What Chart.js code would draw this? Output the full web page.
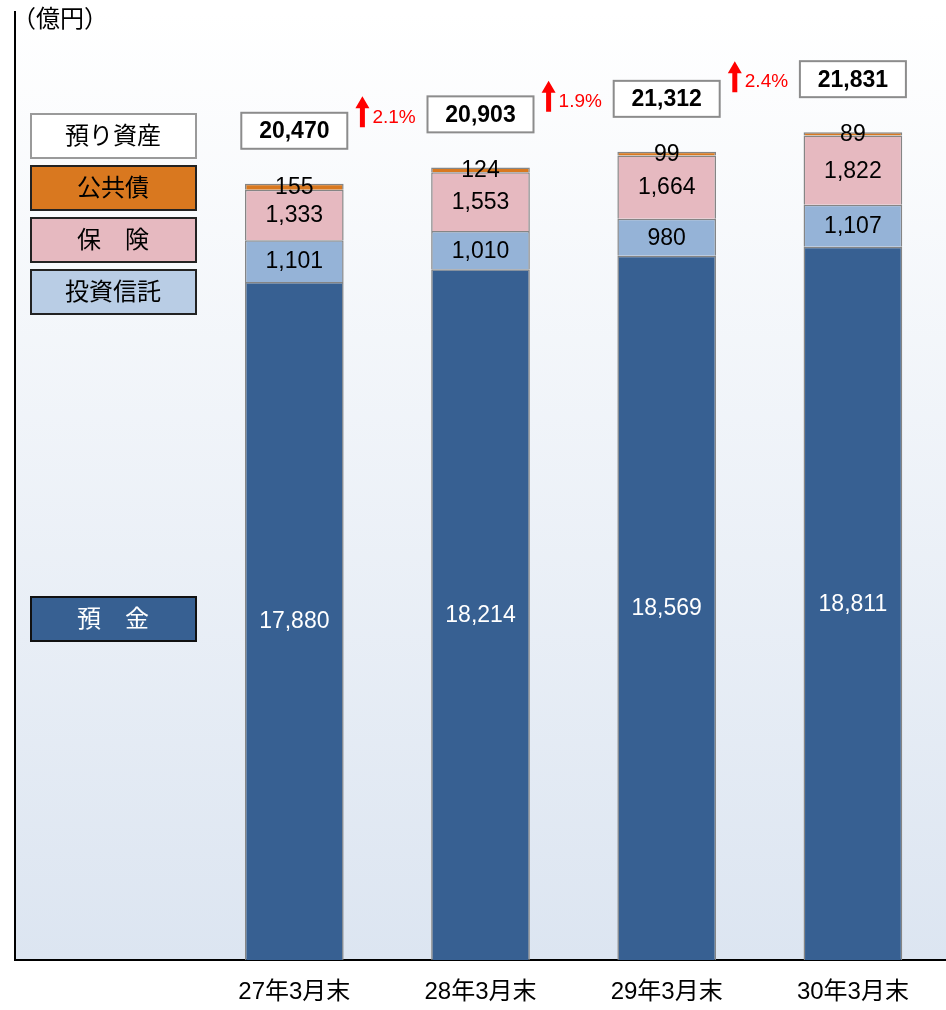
<!DOCTYPE html>
<html>
<head>
<meta charset="utf-8">
<script src="https://cdn.jsdelivr.net/npm/chart.js@4.4.0/dist/chart.umd.min.js"></script>
<style>
html, body { margin: 0; padding: 0; background: #fff; }
#wrap { width: 946px; height: 1010px; position: relative; }
</style>
</head>
<body>
<div id="wrap"><canvas id="myBarChart"></canvas></div>
<script>
// values (億円)
var categories = ["27年3月末", "28年3月末", "29年3月末", "30年3月末"];
var deposits = [17880, 18214, 18569, 18811];   // 預金
var trusts = [1101, 1010, 980, 1107];           // 投資信託
var insurance = [1333, 1553, 1664, 1822];       // 保険
var bonds = [155, 124, 99, 89];                 // 公共債
var totals = [20470, 20903, 21312, 21831];      // 預り資産
var growth = ["2.1%", "1.9%", "2.4%"];

var NUM_FONT = '"Liberation Sans", Arial, sans-serif';
var JP_FONT = '"Liberation Sans", "Noto Sans CJK JP", sans-serif';

// first slot is left empty, the legend sits there
function pad(arr) { return [null].concat(arr); }

var fmt = function (v) { return v.toLocaleString("en-US"); };

var chartDecor = {
    id: "chartDecor",
    beforeDraw: function (chart) {
        var ctx = chart.ctx, a = chart.chartArea;
        ctx.save();
        ctx.fillStyle = "#fff";
        ctx.fillRect(0, 0, chart.width, chart.height);
        var g = ctx.createLinearGradient(0, a.top, 0, a.bottom);
        g.addColorStop(0, "#ffffff");
        g.addColorStop(1, "#dce5f1");
        ctx.fillStyle = g;
        ctx.fillRect(a.left, a.top, a.right - a.left, a.bottom - a.top);
        ctx.restore();
    },
    afterDatasetsDraw: function (chart) {
        var ctx = chart.ctx;
        var yScale = chart.scales.y;
        ctx.save();

        // segment labels
        ctx.textAlign = "center";
        ctx.textBaseline = "middle";
        ctx.font = "23px " + NUM_FONT;
        chart.data.datasets.forEach(function (ds, di) {
            var meta = chart.getDatasetMeta(di);
            meta.data.forEach(function (bar, i) {
                var v = ds.data[i];
                if (v == null) return;
                ctx.fillStyle = di === 0 ? "#fff" : "#000";
                ctx.fillText(fmt(v), bar.x, (bar.y + bar.base) / 2 + 1);
            });
        });

        // total boxes
        var bars = chart.getDatasetMeta(0).data;
        var boxTops = [];
        totals.forEach(function (t, i) {
            var bar = bars[i + 1];
            var top = yScale.getPixelForValue(t) - 35 - 36;
            boxTops.push(top);
            ctx.fillStyle = "#fff";
            ctx.fillRect(bar.x - 53, top, 106, 36);
            ctx.strokeStyle = "#8c8c8c";
            ctx.lineWidth = 2;
            ctx.strokeRect(bar.x - 53, top, 106, 36);
            ctx.fillStyle = "#000";
            ctx.font = "bold 23px " + NUM_FONT;
            ctx.fillText(fmt(t), bar.x, top + 19);
        });

        // growth arrows
        growth.forEach(function (txt, i) {
            var mid = (bars[i + 1].x + bars[i + 2].x) / 2;
            var ax = mid - 25, top = boxTops[i + 1];
            ctx.fillStyle = "#ff0000";
            ctx.beginPath();
            ctx.moveTo(ax, top);
            ctx.lineTo(ax + 7, top + 12);
            ctx.lineTo(ax + 2.5, top + 12);
            ctx.lineTo(ax + 2.5, top + 31);
            ctx.lineTo(ax - 2.5, top + 31);
            ctx.lineTo(ax - 2.5, top + 12);
            ctx.lineTo(ax - 7, top + 12);
            ctx.closePath();
            ctx.fill();
            ctx.textAlign = "left";
            ctx.font = "19px " + NUM_FONT;
            ctx.fillText(txt, mid - 15, top + 21);
            ctx.textAlign = "center";
        });

        // legend boxes
        var legend = [
            { text: "預り資産", fill: "#fff", edge: "#9a9a9a", color: "#000", y: 114 },
            { text: "公共債", fill: chart.data.datasets[3].backgroundColor, edge: "#222", color: "#000", y: 166 },
            { text: "保　険", fill: chart.data.datasets[2].backgroundColor, edge: "#222", color: "#000", y: 218 },
            { text: "投資信託", fill: "#b9cde5", edge: "#222", color: "#000", y: 270 },
            { text: "預　金", fill: chart.data.datasets[0].backgroundColor, edge: "#111", color: "#fff", y: 597 }
        ];
        legend.forEach(function (l) {
            ctx.fillStyle = l.fill;
            ctx.fillRect(31, l.y, 165, 44);
            ctx.strokeStyle = l.edge;
            ctx.lineWidth = 2;
            ctx.strokeRect(31, l.y, 165, 44);
            ctx.fillStyle = l.color;
            ctx.font = "24px " + JP_FONT;
            ctx.fillText(l.text, 113, l.y + 23);
        });

        // unit
        ctx.textAlign = "left";
        ctx.fillStyle = "#000";
        ctx.font = "24px " + JP_FONT;
        ctx.fillText("（億円）", 12, 20);
        ctx.restore();
    }
};

var assetChart = new Chart(document.getElementById("myBarChart"), {
    type: "bar",
    data: {
        labels: [""].concat(categories),
        datasets: [
            { label: "預金", data: pad(deposits), backgroundColor: "#376092" },
            { label: "投資信託", data: pad(trusts), backgroundColor: "#95b3d7" },
            { label: "保険", data: pad(insurance), backgroundColor: "#e6b9c0" },
            { label: "公共債", data: pad(bonds), backgroundColor: "#d9781f" }
        ]
    },
    options: {
        responsive: true,
        maintainAspectRatio: false,
        animation: false,
        layout: { padding: { left: 15, top: 12, right: 0, bottom: 0 } },
        datasets: {
            bar: {
                borderColor: "#858585",
                borderWidth: 1.5,
                barPercentage: 0.53,
                categoryPercentage: 1
            }
        },
        plugins: {
            legend: { display: false },
            tooltip: { enabled: false }
        },
        scales: {
            x: {
                stacked: true,
                grid: { display: false, drawTicks: false },
                border: { display: true, color: "#000", width: 2 },
                afterFit: function (scale) { scale.height = 50; },
                ticks: {
                    color: "#000",
                    padding: 18,
                    autoSkip: false,
                    maxRotation: 0,
                    font: { size: 24, family: JP_FONT }
                }
            },
            y: {
                stacked: true,
                min: 0,
                max: 25000,
                grid: { display: false, drawTicks: false },
                border: { display: true, color: "#000", width: 2 },
                ticks: { display: false }
            }
        }
    },
    plugins: [chartDecor]
});
</script>
</body>
</html>
